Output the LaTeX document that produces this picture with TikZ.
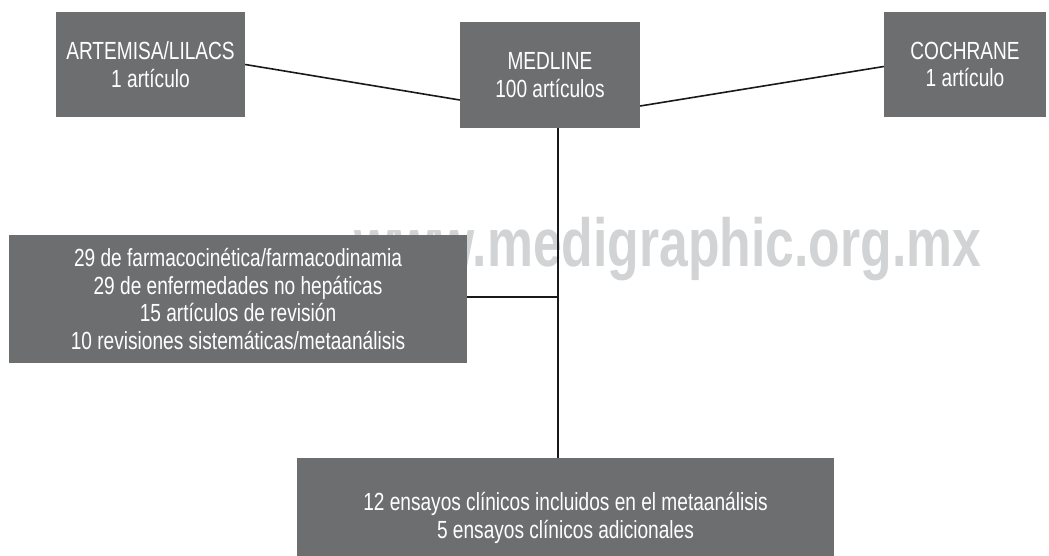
\documentclass[tikz,border=0pt]{standalone}
\usepackage{fontspec}
\setmainfont{Liberation Sans}[FakeStretch=0.77]
\newfontfamily\markfont{Liberation Sans}[FakeStretch=0.76]
\usepackage{xcolor}
\usepackage{tikz}
\usetikzlibrary{positioning,calc}

\definecolor{boxgray}{HTML}{6D6E70}
\definecolor{markgray}{HTML}{D1D3D4}

\begin{document}
\begin{tikzpicture}[
  x=1pt,y=-1pt,
  box/.style={rectangle,fill=boxgray,text=white,align=center,inner sep=0pt,
    font=\fontsize{24.8}{27.5}\selectfont},
  link/.style={draw=black!90,line width=1.6pt}
]
\useasboundingbox (0,0) rectangle (1049,556);
% watermark
\node[anchor=base west,inner sep=0pt,text=markgray,font=\markfont\bfseries\fontsize{68}{68}\selectfont] (mark) at (354,266) {www.medigraphic.org.mx};
% sources
\node[box,minimum width=189pt,minimum height=105pt] (artemisa) at (150.5,64.5) {ARTEMISA/LILACS\\1 art\'iculo};
\node[box,minimum width=180pt,minimum height=106pt] (medline) at (550,75) {MEDLINE\\100 art\'iculos};
\node[box,minimum width=162pt,minimum height=105pt] (cochrane) at (965,64.5) {COCHRANE\\1 art\'iculo};
% excluded and included
\node[box,minimum width=458pt,minimum height=128pt] (excluded) at (238,299) {29 de farmacocin\'etica/farmacodinamia\\29 de enfermedades no hep\'aticas\\15 art\'iculos de revisi\'on\\10 revisiones sistem\'aticas/metaan\'alisis};
\node[box,minimum width=537pt,minimum height=120pt] (result) at (565.5,518) {12 ensayos cl\'inicos incluidos en el metaan\'alisis\\5 ensayos cl\'inicos adicionales};
\coordinate (junc) at (558,297);
\draw[link] (artemisa.east) -- ([yshift=-25pt]medline.west);
\draw[link] ([yshift=-31pt]medline.east) -- ([yshift=-2pt]cochrane.west);
\draw[link] (junc |- medline.south) -- (junc |- result.north);
\draw[link] (excluded.east |- junc) -- (junc);
\end{tikzpicture}
\end{document}
